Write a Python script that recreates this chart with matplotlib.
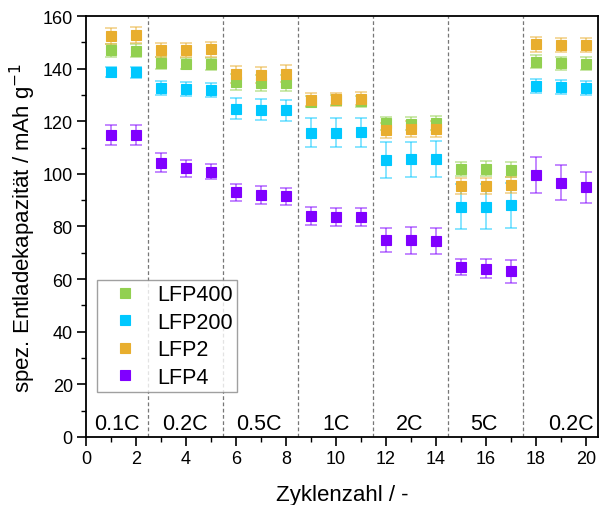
import numpy as np
import matplotlib.pyplot as plt
from matplotlib.ticker import MultipleLocator

plt.rcParams['font.family'] = ['Liberation Sans', 'DejaVu Sans']

# cycle number
cycles = np.arange(1, 21)

# discharge capacities (mAh/g) per sample
lfp400 = [146.9, 146.8, 142.2, 141.9, 141.8, 134.9, 134.6, 134.5, 127.5, 128.0, 127.6,
          119.2, 119.0, 119.3, 101.9, 102.0, 101.6, 142.6, 142.1, 141.9]
lfp400_err = [2.5, 2.5, 2.2, 2.2, 2.2, 3.0, 3.0, 3.0, 2.0, 2.0, 2.0,
              2.5, 2.5, 2.8, 2.8, 2.8, 2.8, 2.5, 2.5, 2.5]
lfp200 = [138.8, 138.6, 132.6, 132.2, 132.0, 124.8, 124.3, 124.1, 115.6, 115.6, 115.8,
          105.3, 105.5, 105.6, 87.5, 87.6, 88.0, 133.3, 133.0, 132.6]
lfp200_err = [2.0, 2.0, 2.6, 2.6, 2.6, 4.0, 4.0, 4.0, 5.5, 5.5, 5.5,
              6.8, 6.8, 6.8, 8.5, 8.5, 8.5, 2.7, 2.7, 2.7]
lfp2 = [152.3, 152.7, 147.1, 147.1, 147.3, 137.8, 137.6, 138.0, 128.2, 128.4, 128.5,
        116.5, 117.0, 117.1, 95.4, 95.4, 95.8, 149.2, 149.0, 149.0]
lfp2_err = [3.0, 3.0, 2.8, 2.8, 2.8, 3.2, 3.2, 3.2, 2.5, 2.5, 2.5,
            3.0, 3.0, 3.0, 3.0, 3.0, 3.0, 2.8, 2.8, 2.8]
lfp4 = [114.8, 114.8, 104.2, 102.1, 100.9, 93.0, 92.0, 91.5, 84.1, 83.7, 83.6,
        74.9, 74.7, 74.6, 64.6, 63.9, 62.9, 99.6, 96.7, 94.9]
lfp4_err = [3.7, 3.7, 3.6, 3.2, 3.0, 3.3, 3.3, 3.3, 3.5, 3.5, 3.5,
            4.7, 5.0, 5.0, 3.2, 3.6, 4.5, 7.0, 6.5, 6.0]

series = [("LFP400", lfp400, lfp400_err, "#92D050"),
          ("LFP200", lfp200, lfp200_err, "#00C8FF"),
          ("LFP2", lfp2, lfp2_err, "#E8AE2E"),
          ("LFP4", lfp4, lfp4_err, "#8000FF")]

# C-rate sections
rate_labels = ["0.1C", "0.2C", "0.5C", "1C", "2C", "5C", "0.2C"]
rate_label_x = [1.23, 3.96, 6.92, 10.0, 12.96, 15.9, 19.4]
section_edges = [2.5, 5.5, 8.5, 11.5, 14.5, 17.5]

fig = plt.figure(figsize=(6.03, 5.06), dpi=100)
ax = fig.add_axes([0.1426, 0.1344, 0.849, 0.832])

for name, vals, errs, col in series:
    ax.errorbar(cycles, vals, yerr=errs, fmt='none', ecolor=col, alpha=0.55,
                elinewidth=1.2, capsize=4.5, capthick=1.2, zorder=2)
for name, vals, errs, col in series:
    ax.plot(cycles, vals, 's', color=col, markersize=7, markeredgewidth=0.8,
            markeredgecolor=col, label=name, zorder=3)

for xe in section_edges:
    ax.axvline(xe, color='#777777', lw=0.9, ls=(0, (3, 2)), zorder=1)

for lab, xl in zip(rate_labels, rate_label_x):
    ax.text(xl, 5.0, lab, ha='center', va='center', fontsize=15.5)

ax.set_xlim(0, 20.48)
ax.set_ylim(0, 160)
ax.xaxis.set_major_locator(MultipleLocator(2))
ax.xaxis.set_minor_locator(MultipleLocator(1))
ax.yaxis.set_major_locator(MultipleLocator(20))
ax.yaxis.set_minor_locator(MultipleLocator(10))
ax.tick_params(which='major', direction='out', length=6.5, width=1.2, labelsize=13, pad=3)
ax.tick_params(which='minor', direction='out', length=3.5, width=1.0)
for sp in ax.spines.values():
    sp.set_linewidth(1.3)

ax.set_xlabel("Zyklenzahl / -", fontsize=16, labelpad=12)
ax.set_ylabel("spez. Entladekapazität / mAh g$^{-1}$", fontsize=16, labelpad=3)

leg = ax.legend(loc='lower left', bbox_to_anchor=(0.0215, 0.107), borderaxespad=0,
                fontsize=15.5, frameon=True, fancybox=False, edgecolor='#888888',
                handlelength=2.2, handletextpad=0.4, borderpad=0.2,
                labelspacing=0.3, markerscale=1.0)
leg.get_frame().set_linewidth(1.0)

fig.savefig("out.png", dpi=100)
